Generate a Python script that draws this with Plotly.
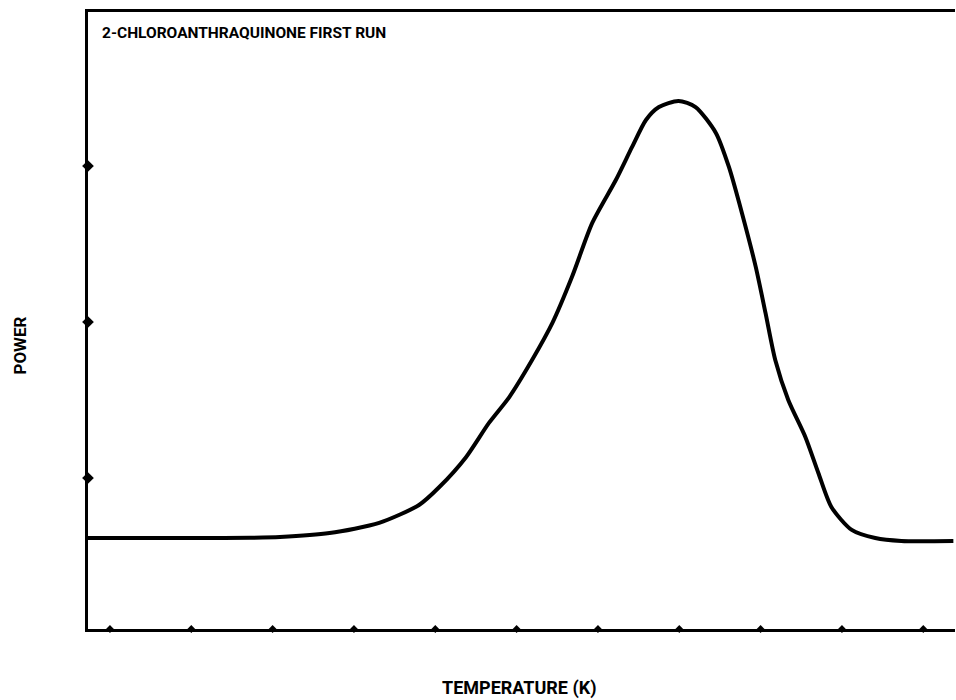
import plotly.graph_objects as go

# DSC-style trace: power versus temperature
temperature_k = [297.3, 304.9, 311.0, 317.2, 320.9, 327.0, 333.1, 338.0, 340.5, 343.8,
                 346.6, 349.1, 351.9, 354.4, 356.8, 359.3, 362.2, 364.2, 365.9, 367.5,
                 369.9, 372.0, 374.5, 376.1, 377.7, 379.4, 380.6, 381.8, 383.4, 385.5,
                 387.1, 388.7, 391.2, 394.1, 397.3, 403.7]
power = [0.615, 0.615, 0.615, 0.617, 0.622, 0.647, 0.712, 0.827, 0.942, 1.135,
         1.353, 1.519, 1.756, 1.994, 2.288, 2.635, 2.910, 3.122, 3.295, 3.378,
         3.417, 3.378, 3.212, 2.994, 2.699, 2.353, 2.058, 1.756, 1.500, 1.263,
         1.032, 0.814, 0.667, 0.615, 0.596, 0.596]

x_ticks = [300, 310, 320, 330, 340, 350, 360, 370, 380, 390, 400]
y_ticks = [1, 2, 3]

x_range = [297.3, 403.9]
y_range = [0.032, 3.987]

title_text = "2-CHLOROANTHRAQUINONE FIRST RUN"
x_title = "TEMPERATURE (K)"
y_title = "POWER"

fig = go.Figure()

fig.add_trace(go.Scatter(
    x=temperature_k, y=power, mode="lines",
    line=dict(color="black", width=4, shape="spline", smoothing=0.7),
    showlegend=False, hoverinfo="skip",
))

# tick bumps along the frame
fig.add_trace(go.Scatter(
    x=[x_range[0]] * len(y_ticks), y=y_ticks, mode="markers",
    marker=dict(symbol="diamond", size=9, color="black"),
    cliponaxis=False, showlegend=False, hoverinfo="skip",
))
fig.add_trace(go.Scatter(
    x=x_ticks, y=[y_range[0]] * len(x_ticks), mode="markers",
    marker=dict(symbol="diamond", size=6, color="black"),
    cliponaxis=False, showlegend=False, hoverinfo="skip",
))

fig.update_layout(
    width=956, height=700,
    margin=dict(l=88, r=1, t=12, b=71),
    paper_bgcolor="white", plot_bgcolor="white",
    xaxis=dict(range=x_range, showgrid=False, zeroline=False, showticklabels=False,
               ticks="", showline=True, linecolor="black", linewidth=3, mirror=True),
    yaxis=dict(range=y_range, showgrid=False, zeroline=False, showticklabels=False,
               ticks="", showline=True, linecolor="black", linewidth=3, mirror=False),
    annotations=[
        dict(text=title_text, xref="paper", yref="paper", x=0.014, y=0.966,
             xanchor="left", yanchor="middle", showarrow=False,
             font=dict(family="Roboto", size=15.5, color="black", weight="bold")),
        dict(text=x_title, xref="paper", yref="paper", x=0.498, y=-0.0956,
             xanchor="center", yanchor="middle", showarrow=False,
             font=dict(family="Roboto", size=18, color="black", weight="bold")),
        dict(text=y_title, xref="paper", yref="paper", x=-0.078, y=0.46,
             xanchor="center", yanchor="middle", showarrow=False, textangle=-90,
             font=dict(family="Roboto", size=17, color="black", weight="bold")),
    ],
)

fig.write_html("out.html")
